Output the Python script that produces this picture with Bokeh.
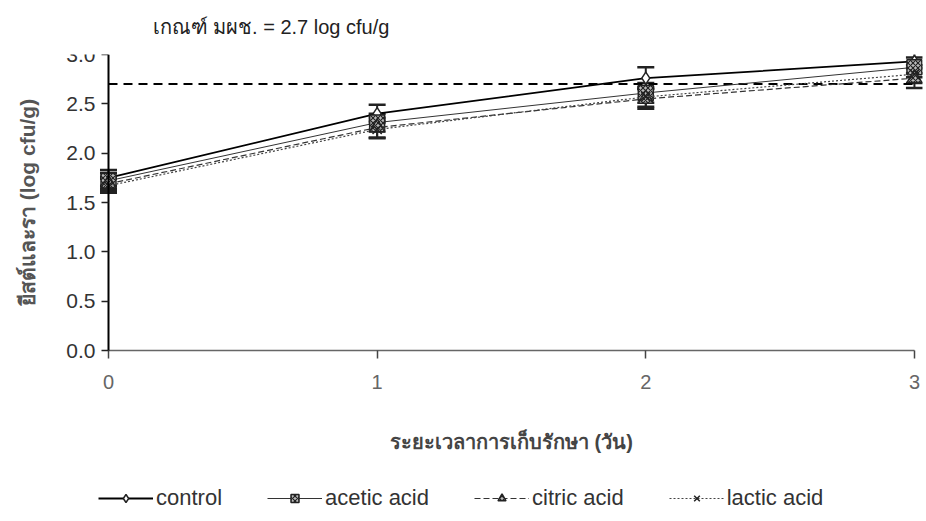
from bokeh.plotting import figure
from bokeh.models import (Range1d, Title, Legend, LegendItem, Whisker, TeeHead,
                          ColumnDataSource, FixedTicker)
from bokeh.embed import file_html
from bokeh.resources import INLINE

days = [0, 1, 2, 3]
control = [1.75, 2.40, 2.76, 2.93]
acetic = [1.72, 2.31, 2.61, 2.87]
citric = [1.69, 2.26, 2.55, 2.76]
lactic = [1.67, 2.24, 2.57, 2.80]
control_err = [0.08, 0.09, 0.11, 0.12]
acetic_err = [0.08, 0.09, 0.10, 0.10]
citric_err = [0.07, 0.10, 0.10, 0.10]
lactic_err = [0.07, 0.09, 0.10, 0.09]
standard = 2.7
x_ticks = [0, 1, 2, 3]
y_ticks = [0.0, 0.5, 1.0, 1.5, 2.0, 2.5, 3.0]
y_tick_labels = {0.0: "0.0", 0.5: "0.5", 1.0: "1.0", 1.5: "1.5", 2.0: "2.0", 2.5: "2.5", 3.0: "3.0"}
series_names = ["control", "acetic acid", "citric acid", "lactic acid"]
x_title = "ระยะเวลาการเก็บรักษา (วัน)"
y_title = "ยีสต์และรา (log cfu/g)"
note = "เกณฑ์ มผช. = 2.7 log cfu/g"

FONT = "Liberation Sans"

# the frame covers the whole drawing; both axes sit at fixed data locations
p = figure(frame_width=922, frame_height=460, output_backend="svg",
           toolbar_location=None,
           x_range=Range1d(-0.402, 3.030), y_range=Range1d(-1.662, 3),
           min_border_left=0, min_border_right=2, min_border_top=10,
           min_border_bottom=2)
p.outline_line_color = None
p.grid.visible = False
p.background_fill_color = "white"

# note above the plot
p.add_layout(Title(text=note, align="left", offset=152, text_font=FONT,
                   text_font_size="20px", text_font_style="normal",
                   vertical_align="top",
                   text_color="#222222", standoff=30), "above")

# axes
p.xaxis.fixed_location = 0
p.yaxis.fixed_location = 0
p.xaxis.bounds = (0, 3)
p.yaxis.bounds = (0, 3)
p.xaxis.ticker = FixedTicker(ticks=x_ticks)
p.yaxis.ticker = FixedTicker(ticks=y_ticks)
p.yaxis.major_label_overrides = {k: v for k, v in y_tick_labels.items()}
p.xaxis.minor_tick_line_color = None
p.yaxis.minor_tick_line_color = None
p.xaxis.axis_line_color = "#666666"
p.xaxis.axis_line_width = 1.5
p.xaxis.major_tick_line_color = "#444444"
p.xaxis.major_tick_line_width = 1.5
p.xaxis.major_tick_out = 8
p.xaxis.major_tick_in = 0
p.xaxis.major_label_standoff = 16
p.xaxis.major_label_text_font = FONT
p.xaxis.major_label_text_font_size = "20px"
p.xaxis.major_label_text_color = "#666666"
p.xaxis.axis_label = x_title
p.xaxis.axis_label_text_font = FONT
p.xaxis.axis_label_text_font_size = "20px"
p.xaxis.axis_label_text_font_style = "bold"
p.xaxis.axis_label_text_color = "#444444"
p.xaxis.axis_label_standoff = 39

p.yaxis.axis_line_color = "black"
p.yaxis.axis_line_width = 2
p.yaxis.major_tick_line_color = "#222222"
p.yaxis.major_tick_line_width = 1.5
p.yaxis.major_tick_out = 7
p.yaxis.major_tick_in = 0
p.yaxis.major_label_standoff = 6
p.yaxis.major_label_text_font = FONT
p.yaxis.major_label_text_font_size = "21px"
p.yaxis.major_label_text_color = "#333333"
p.yaxis.axis_label = y_title
p.yaxis.axis_label_text_font = FONT
p.yaxis.axis_label_text_font_size = "21px"
p.yaxis.axis_label_text_font_style = "bold"
p.yaxis.axis_label_text_color = "#555555"
p.yaxis.axis_label_standoff = 24

# standard line
p.line([days[0], days[-1]], [standard, standard], line_color="black",
       line_width=2, line_dash="9 6")

styles = [
    dict(dash="solid", width=1.8, color="black", marker="diamond", size=12,
         fill="white", hatch=None),
    dict(dash="solid", width=1.0, color="#333333", marker="square", size=15,
         fill="#bbbbbb", hatch="diagonal_cross"),
    dict(dash="6 3", width=1.2, color="#333333", marker="triangle", size=15,
         fill="#bbbbbb", hatch="diagonal_cross"),
    dict(dash="2 2", width=1.2, color="#444444", marker="x", size=13,
         fill="white", hatch=None),
]
all_vals = [control, acetic, citric, lactic]
all_errs = [control_err, acetic_err, citric_err, lactic_err]

items = []
for name, vals, errs, st in zip(series_names, all_vals, all_errs, styles):
    src = ColumnDataSource(dict(x=days, y=vals,
                                upper=[v + e for v, e in zip(vals, errs)],
                                lower=[v - e for v, e in zip(vals, errs)]))
    w = Whisker(base="x", upper="upper", lower="lower", source=src,
                line_color="#222222", line_width=2,
                upper_head=TeeHead(size=17, line_width=2.5, line_color="#222222"),
                lower_head=TeeHead(size=17, line_width=2.5, line_color="#222222"))
    p.add_layout(w)
    r_line = p.line("x", "y", source=src, line_color=st["color"],
                    line_width=st["width"], line_dash=st["dash"])
    kw = dict(marker=st["marker"], size=st["size"], line_color="#222222",
              line_width=1.5, fill_color=st["fill"])
    if st["hatch"]:
        kw.update(hatch_pattern=st["hatch"], hatch_color="#222222",
                  hatch_scale=5, hatch_weight=1.2)
    r_mark = p.scatter("x", "y", source=src, **kw)
    items.append(LegendItem(label=name, renderers=[r_line, r_mark]))

legend = Legend(items=items, orientation="horizontal", location=(98, 3),
                glyph_width=55, glyph_height=20, label_standoff=3, spacing=45,
                padding=0, margin=0, border_line_color=None,
                background_fill_alpha=0,
                label_text_font=FONT, label_text_font_size="22px",
                label_text_color="#333333")
p.add_layout(legend, "center")

open("out.html", "w").write(file_html(p, INLINE))
